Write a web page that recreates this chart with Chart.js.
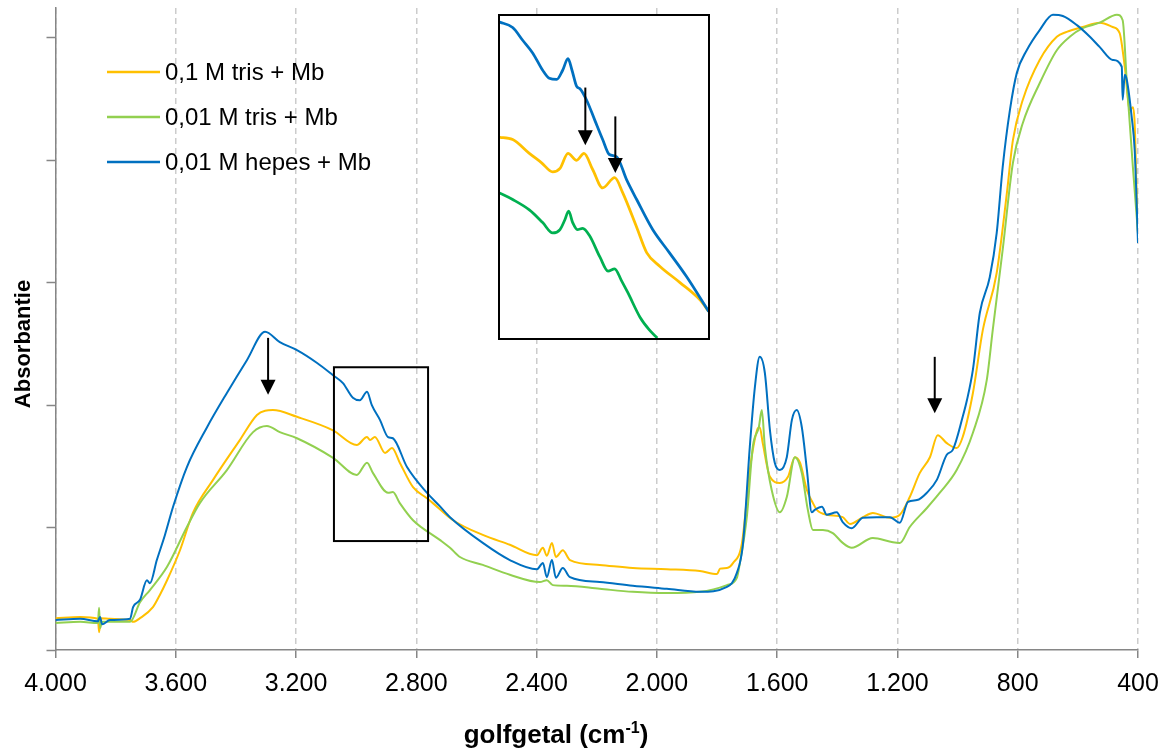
<!DOCTYPE html>
<html>
<head>
<meta charset="utf-8">
<script src="https://cdn.jsdelivr.net/npm/chart.js@4"></script>
<style>
  html, body { margin: 0; padding: 0; background: #fff; }
  #wrap { position: relative; width: 1170px; height: 756px; }
  #inset { position: absolute; left: 498px; top: 14px; width: 208px; height: 322px;
           border: 2px solid #000; background: #fff; }
</style>
</head>
<body>
<div id="wrap">
  <canvas id="main" width="1170" height="756"></canvas>
  <div id="inset"><canvas id="zoomed" width="208" height="322"></canvas></div>
</div>
<script>
// ---- data (wavenumber in cm-1, absorbance) ----
const seriesLabels = ['0,1 M tris + Mb', '0,01 M tris + Mb', '0,01 M hepes + Mb'];
const seriesColors = ['#ffc000', '#92d050', '#0070c0'];

const xTicks = [4000, 3600, 3200, 2800, 2400, 2000, 1600, 1200, 800, 400];
const xTickLabels = ['4.000', '3.600', '3.200', '2.800', '2.400', '2.000', '1.600', '1.200', '800', '400'];
const yTicks = [0, 0.2, 0.4, 0.6, 0.8, 1.0];

const trisWn = [4000, 3918, 3859, 3855, 3849, 3819, 3752, 3742, 3719, 3676, 3653, 3629, 3586, 3543, 3476, 3387,
  3330, 3303, 3277, 3197, 3077, 2998, 2964, 2954, 2938, 2904, 2881, 2855, 2811, 2765, 2745, 2678, 2579, 2489,
  2399, 2379, 2366, 2349, 2336, 2313, 2289, 2190, 2080, 1967, 1857, 1800, 1790, 1767, 1747, 1717, 1691, 1667, 1658, 1648,
  1624, 1591, 1564, 1541, 1524, 1501, 1481, 1468, 1435, 1382, 1358, 1315, 1282, 1225, 1192, 1159, 1126, 1092,
  1066, 1036, 1003, 983, 949, 916, 870, 836, 816, 783, 727, 670, 637, 584, 527, 484, 461, 444, 427, 417, 411,
  404, 400];
const trisAbs = [0.052, 0.054, 0.051, 0.029, 0.052, 0.051, 0.049, 0.046, 0.052, 0.070, 0.090, 0.114, 0.163, 0.224,
  0.278, 0.343, 0.384, 0.391, 0.392, 0.381, 0.359, 0.335, 0.348, 0.343, 0.348, 0.322, 0.330, 0.306, 0.266, 0.248,
  0.240, 0.212, 0.188, 0.172, 0.155, 0.167, 0.154, 0.175, 0.152, 0.163, 0.147, 0.139, 0.134, 0.132, 0.129, 0.124,
  0.133, 0.134, 0.142, 0.175, 0.294, 0.359, 0.364, 0.338, 0.283, 0.273, 0.283, 0.315, 0.306, 0.261, 0.240, 0.229,
  0.221, 0.217, 0.206, 0.217, 0.224, 0.216, 0.221, 0.250, 0.289, 0.315, 0.351, 0.338, 0.330, 0.348, 0.420, 0.523,
  0.616, 0.747, 0.833, 0.899, 0.964, 1.002, 1.010, 1.018, 1.025, 1.018, 1.008, 0.953, 0.882, 0.887, 0.860, 0.735,
  0.681];

const tris01Wn = [4000, 3918, 3859, 3855, 3852, 3845, 3752, 3719, 3686, 3629, 3563, 3520, 3430, 3343, 3297, 3254,
  3197, 3077, 2998, 2964, 2944, 2894, 2878, 2855, 2811, 2722, 2688, 2655, 2579, 2489, 2389, 2366, 2346, 2299,
  2190, 2080, 1967, 1857, 1767, 1734, 1724, 1701, 1681, 1661, 1651, 1641, 1618, 1591, 1568, 1541, 1518, 1498,
  1481, 1448, 1415, 1382, 1352, 1282, 1215, 1192, 1159, 1102, 1059, 1003, 949, 903, 883, 850, 816, 783, 727,
  670, 627, 584, 527, 470, 451, 437, 417, 400];
const tris01Abs = [0.044, 0.046, 0.044, 0.069, 0.036, 0.046, 0.046, 0.078, 0.098, 0.136, 0.201, 0.240, 0.294, 0.356,
  0.366, 0.356, 0.346, 0.314, 0.286, 0.306, 0.289, 0.257, 0.258, 0.240, 0.212, 0.180, 0.167, 0.152, 0.139, 0.123,
  0.111, 0.114, 0.106, 0.105, 0.100, 0.095, 0.093, 0.095, 0.106, 0.118, 0.142, 0.217, 0.332, 0.364, 0.392, 0.332,
  0.261, 0.225, 0.250, 0.315, 0.289, 0.229, 0.196, 0.196, 0.191, 0.175, 0.167, 0.183, 0.176, 0.175, 0.201, 0.232,
  0.257, 0.294, 0.355, 0.441, 0.523, 0.654, 0.796, 0.861, 0.926, 0.980, 1.002, 1.016, 1.025, 1.038, 1.029, 0.926,
  0.789, 0.681];

const hepesWn = [4000, 3918, 3859, 3852, 3845, 3819, 3752, 3742, 3719, 3696, 3686, 3663, 3636, 3609, 3563, 3496,
  3430, 3363, 3303, 3254, 3197, 3130, 3077, 3044, 3011, 2988, 2964, 2948, 2921, 2894, 2878, 2831, 2765, 2722,
  2688, 2579, 2489, 2399, 2379, 2366, 2349, 2336, 2313, 2289, 2190, 2080, 1967, 1857, 1767, 1734, 1714, 1691,
  1674, 1658, 1641, 1624, 1608, 1591, 1568, 1551, 1535, 1518, 1501, 1485, 1475, 1451, 1435, 1402, 1382, 1352,
  1315, 1269, 1225, 1192, 1165, 1135, 1102, 1069, 1036, 1016, 983, 969, 949, 926, 893, 870, 850, 826, 803, 770,
  727, 683, 650, 603, 560, 527, 484, 454, 451, 444, 437, 421, 411, 400];
const hepesAbs = [0.049, 0.051, 0.047, 0.054, 0.042, 0.049, 0.051, 0.070, 0.082, 0.114, 0.109, 0.147, 0.188, 0.234,
  0.299, 0.364, 0.420, 0.474, 0.520, 0.503, 0.490, 0.469, 0.449, 0.436, 0.412, 0.408, 0.422, 0.400, 0.376, 0.348,
  0.346, 0.299, 0.257, 0.235, 0.217, 0.175, 0.147, 0.132, 0.142, 0.119, 0.147, 0.118, 0.134, 0.119, 0.111, 0.105,
  0.100, 0.095, 0.103, 0.126, 0.172, 0.332, 0.430, 0.479, 0.453, 0.359, 0.306, 0.294, 0.315, 0.376, 0.392, 0.364,
  0.294, 0.225, 0.229, 0.234, 0.221, 0.225, 0.209, 0.199, 0.216, 0.217, 0.217, 0.208, 0.242, 0.245, 0.257, 0.278,
  0.319, 0.327, 0.381, 0.408, 0.458, 0.551, 0.609, 0.681, 0.789, 0.882, 0.943, 0.980, 1.013, 1.038, 1.036, 1.021,
  1.002, 0.985, 0.964, 0.953, 0.899, 0.940, 0.931, 0.871, 0.817, 0.665];

// boxed region and arrows in the main plot
const boxWn = [3074, 2761];
const boxAbs = [0.462, 0.178];
const arrowWn = [3293, 1076];
const arrowFrom = [0.510, 0.479];
const arrowTo = [0.417, 0.387];

// inset (magnified C-H region)
const insetColors = ['#ffc000', '#00b050', '#0070c0'];
const insetTrisWn = [3060, 3039, 3014, 2996, 2979, 2968, 2956, 2943, 2932, 2919, 2904, 2886, 2874, 2853, 2838, 2818,
  2788, 2758, 2745];
const insetTrisAbs = [0.354, 0.352, 0.340, 0.332, 0.324, 0.327, 0.340, 0.334, 0.340, 0.326, 0.310, 0.319, 0.306,
  0.276, 0.254, 0.242, 0.228, 0.213, 0.203];
const insetTris01Wn = [3060, 3039, 3014, 2994, 2979, 2968, 2961, 2955, 2949, 2942, 2934, 2924, 2908, 2896, 2886,
  2876, 2866, 2848, 2834, 2822];
const insetTris01Abs = [0.306, 0.300, 0.291, 0.280, 0.271, 0.274, 0.282, 0.290, 0.280, 0.274, 0.275, 0.269, 0.250,
  0.238, 0.240, 0.230, 0.219, 0.198, 0.187, 0.180];
const insetHepesWn = [3060, 3039, 3024, 3009, 2994, 2984, 2973, 2964, 2956, 2950, 2943, 2938, 2928, 2916, 2904, 2894,
  2883, 2868, 2853, 2829, 2804, 2778, 2745];
const insetHepesAbs = [0.454, 0.449, 0.438, 0.427, 0.412, 0.405, 0.404, 0.412, 0.422, 0.412, 0.398, 0.396, 0.386,
  0.369, 0.352, 0.339, 0.337, 0.317, 0.300, 0.274, 0.254, 0.233, 0.203];
const insetArrowWn = [2930, 2885];
const insetArrowFrom = [0.397, 0.372];
const insetArrowTo = [0.347, 0.323];

const FONT = '"Liberation Sans", Arial, sans-serif';
Chart.defaults.font.family = FONT;
Chart.defaults.color = '#000';

const pts = (xs, ys) => xs.map((v, i) => ({ x: v, y: ys[i] }));

function drawArrow(ctx, px, y0, y1) {
  ctx.save();
  ctx.strokeStyle = '#000';
  ctx.fillStyle = '#000';
  ctx.lineWidth = 2;
  ctx.beginPath();
  ctx.moveTo(px, y0);
  ctx.lineTo(px, y1 - 12);
  ctx.stroke();
  ctx.beginPath();
  ctx.moveTo(px - 7.5, y1 - 15);
  ctx.lineTo(px + 7.5, y1 - 15);
  ctx.lineTo(px, y1);
  ctx.closePath();
  ctx.fill();
  ctx.restore();
}

const mainExtras = {
  id: 'mainExtras',
  afterDraw(chart) {
    const { ctx, scales: { x, y } } = chart;
    ctx.save();
    // box around the magnified region
    const bx0 = x.getPixelForValue(boxWn[0]), bx1 = x.getPixelForValue(boxWn[1]);
    const by0 = y.getPixelForValue(boxAbs[0]), by1 = y.getPixelForValue(boxAbs[1]);
    ctx.strokeStyle = '#000';
    ctx.lineWidth = 2;
    ctx.strokeRect(bx0, by0, bx1 - bx0, by1 - by0);
    arrowWn.forEach((w, i) => drawArrow(ctx, x.getPixelForValue(w), y.getPixelForValue(arrowFrom[i]), y.getPixelForValue(arrowTo[i])));

    // legend
    ctx.font = '24px ' + FONT;
    ctx.textBaseline = 'middle';
    ctx.textAlign = 'left';
    seriesLabels.forEach((lab, i) => {
      const ly = 72 + i * 45;
      ctx.strokeStyle = seriesColors[i];
      ctx.lineWidth = 2.5;
      ctx.beginPath();
      ctx.moveTo(107, ly);
      ctx.lineTo(160, ly);
      ctx.stroke();
      ctx.fillStyle = '#000';
      ctx.fillText(lab, 165, ly + 1);
    });

    // axis titles
    ctx.fillStyle = '#000';
    ctx.save();
    ctx.translate(24, 344);
    ctx.rotate(-Math.PI / 2);
    ctx.font = 'bold 22px ' + FONT;
    ctx.textAlign = 'center';
    ctx.textBaseline = 'middle';
    ctx.fillText('Absorbantie', 0, 0);
    ctx.restore();

    const main = 'golfgetal (cm', sup = '-1', close = ')';
    ctx.textBaseline = 'alphabetic';
    ctx.textAlign = 'left';
    ctx.font = 'bold 26px ' + FONT;
    const w1 = ctx.measureText(main).width, w3 = ctx.measureText(close).width;
    ctx.font = 'bold 16px ' + FONT;
    const w2 = ctx.measureText(sup).width;
    const tx = 556 - (w1 + w2 + w3) / 2;
    const base = 743;
    ctx.font = 'bold 26px ' + FONT;
    ctx.fillText(main, tx, base);
    ctx.font = 'bold 16px ' + FONT;
    ctx.fillText(sup, tx + w1, base - 10);
    ctx.font = 'bold 26px ' + FONT;
    ctx.fillText(close, tx + w1 + w2, base);
    ctx.restore();
  }
};

new Chart(document.getElementById('main'), {
  type: 'line',
  data: {
    datasets: [
      { label: seriesLabels[0], data: pts(trisWn, trisAbs), borderColor: seriesColors[0], order: 2 },
      { label: seriesLabels[1], data: pts(tris01Wn, tris01Abs), borderColor: seriesColors[1], order: 1 },
      { label: seriesLabels[2], data: pts(hepesWn, hepesAbs), borderColor: seriesColors[2], order: 0 }
    ]
  },
  options: {
    responsive: false,
    animation: false,
    devicePixelRatio: 1,
    layout: { padding: { top: 8, right: 32, left: 0, bottom: 0 } },
    elements: { point: { radius: 0 }, line: { borderWidth: 2, cubicInterpolationMode: 'monotone' } },
    plugins: { legend: { display: false }, tooltip: { enabled: false } },
    scales: {
      x: {
        type: 'linear', reverse: true, min: 400, max: 4000,
        afterBuildTicks: s => { s.ticks = xTicks.map(v => ({ value: v })); },
        afterFit: s => { s.height = 106; },
        ticks: {
          font: { size: 25 }, color: '#000', padding: 11, maxRotation: 0, autoSkip: false,
          callback: v => xTickLabels[xTicks.indexOf(v)]
        },
        grid: { color: '#cccccc', lineWidth: 1.5, tickColor: '#868686', tickLength: 8, tickWidth: 1.5, tickBorderDash: [] },
        border: { color: '#868686', width: 1.5, dash: [6, 4] }
      },
      y: {
        min: 0, max: 1.049,
        afterBuildTicks: s => { s.ticks = yTicks.map(v => ({ value: v })); },
        afterFit: s => { s.width = 55.5; },
        ticks: { display: false },
        grid: { drawOnChartArea: false, tickLength: 9, tickColor: '#868686', tickWidth: 1.5 },
        border: { color: '#868686', width: 1.5 }
      }
    }
  },
  plugins: [mainExtras]
});

const insetExtras = {
  id: 'insetExtras',
  afterDraw(chart) {
    const { ctx, scales: { x, y } } = chart;
    insetArrowWn.forEach((w, i) => drawArrow(ctx, x.getPixelForValue(w), y.getPixelForValue(insetArrowFrom[i]), y.getPixelForValue(insetArrowTo[i])));
  }
};

new Chart(document.getElementById('zoomed'), {
  type: 'line',
  data: {
    datasets: [
      { data: pts(insetTrisWn, insetTrisAbs), borderColor: insetColors[0], order: 2 },
      { data: pts(insetTris01Wn, insetTris01Abs), borderColor: insetColors[1], order: 1 },
      { data: pts(insetHepesWn, insetHepesAbs), borderColor: insetColors[2], order: 0 }
    ]
  },
  options: {
    responsive: false,
    animation: false,
    devicePixelRatio: 1,
    layout: { padding: 0 },
    elements: { point: { radius: 0 }, line: { borderWidth: 2.75, cubicInterpolationMode: 'monotone' } },
    plugins: { legend: { display: false }, tooltip: { enabled: false } },
    scales: {
      x: { type: 'linear', reverse: true, min: 2746, max: 3058, display: false },
      y: { min: 0.18, max: 0.459, display: false }
    }
  },
  plugins: [insetExtras]
});
</script>
</body>
</html>
